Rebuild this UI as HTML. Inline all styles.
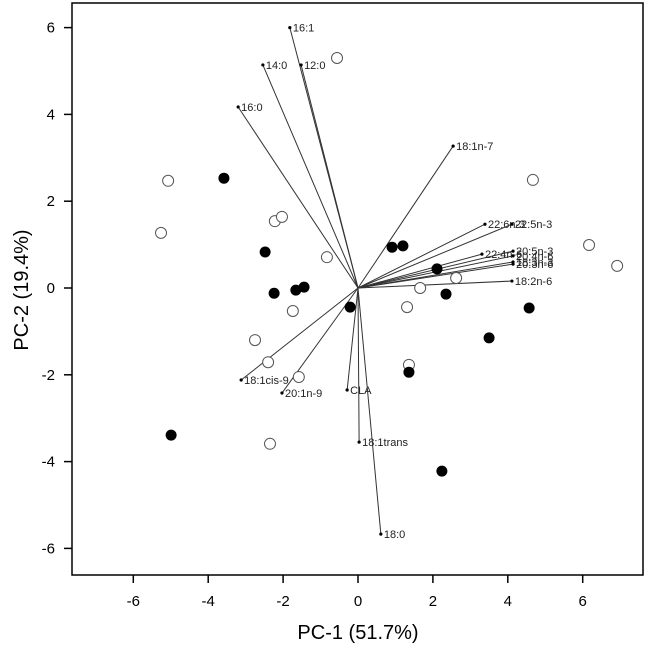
<!DOCTYPE html>
<html><head><meta charset="utf-8"><style>
html,body{margin:0;padding:0;background:#fff;}
svg{display:block;font-family:"Liberation Sans",Arial,sans-serif;}
</style></head><body>
<svg id="chart" width="647" height="646">
<rect x="72" y="3" width="571" height="572" fill="none" stroke="#000" stroke-width="1.5"/>
<g id="axes"></g><g id="vectors"></g><g id="points"></g>
<text x="358" y="639" text-anchor="middle" font-size="20">PC-1 (51.7%)</text>
<text transform="translate(28,290) rotate(-90)" text-anchor="middle" font-size="20">PC-2 (19.4%)</text>
</svg>
<script>
const xTicks=[-6,-4,-2,0,2,4,6];
const yTicks=[-6,-4,-2,0,2,4,6];
const vecNames=["16:1","12:0","14:0","16:0","18:1n-7","22:6n-3","22:5n-3","20:5n-3","22:4n-6","20:4n-6","18:3n-3","20:3n-6","18:2n-6","18:1cis-9","20:1n-9","CLA","18:1trans","18:0"];
const vecX=[-1.82,-1.52,-2.54,-3.2,2.54,3.39,4.11,4.14,3.31,4.14,4.14,4.14,4.11,-3.12,-2.03,-0.29,0.03,0.61];
const vecY=[6.0,5.14,5.14,4.17,3.27,1.47,1.47,0.85,0.78,0.74,0.6,0.55,0.16,-2.12,-2.42,-2.35,-3.55,-5.67];
const filledX=[-3.58,-2.48,-2.24,-1.66,-1.44,-0.21,0.91,1.2,2.11,2.35,4.57,3.5,1.36,-4.99,2.24];
const filledY=[2.53,0.83,-0.12,-0.05,0.02,-0.44,0.94,0.97,0.44,-0.14,-0.46,-1.15,-1.94,-3.39,-4.22];
const openX=[-5.07,-5.26,-2.22,-2.03,-0.83,-0.56,-1.74,-2.75,-2.4,-1.58,-2.35,1.31,1.66,2.62,1.36,4.67,6.17,6.92];
const openY=[2.47,1.27,1.54,1.64,0.71,5.3,-0.53,-1.2,-1.71,-2.05,-3.59,-0.44,0,0.23,-1.77,2.49,0.99,0.51];
const NS="http://www.w3.org/2000/svg";
const sx=v=>358+v*37.45, sy=v=>288-v*43.4;
function mk(tag,attrs,parent,txt){const e=document.createElementNS(NS,tag);for(const k in attrs)e.setAttribute(k,attrs[k]);if(txt!==undefined)e.textContent=txt;parent.appendChild(e);return e;}
const ax=document.getElementById('axes');
xTicks.forEach(t=>{
 const l=mk('line',{x1:sx(t),x2:sx(t),y1:575,y2:583,stroke:'#000','stroke-width':1.5},ax);
 
 
 const tx=mk('text',{x:sx(t),y:606,'text-anchor':'middle','font-size':15},ax,String(t));
 
 
});
yTicks.forEach(t=>{
 const l=mk('line',{x1:64,x2:72,y1:sy(t),y2:sy(t),stroke:'#000','stroke-width':1.5},ax);
 
 
 const tx=mk('text',{x:55,y:sy(t)+5,'text-anchor':'end','font-size':15},ax,String(t));
 
 
});
const vg=document.getElementById('vectors');
vecNames.forEach((n,i)=>{
 const x=sx(vecX[i]),y=sy(vecY[i]);
 const l=mk('line',{x1:sx(0),y1:sy(0),x2:x,y2:y,stroke:'#333','stroke-width':1},vg);
 
 
 const d=mk('circle',{cx:x,cy:y,r:1.6,fill:'#000'},vg);
 
 
 const t=mk('text',{x:x+3,y:y+4,'font-size':11,fill:'#222'},vg,n);
 
 
});
const pg=document.getElementById('points');
openX.forEach((v,i)=>{
 const c=mk('circle',{cx:sx(v),cy:sy(openY[i]),r:5.5,fill:'#fff',stroke:'#555','stroke-width':1},pg);
 
 
});
filledX.forEach((v,i)=>{
 const c=mk('circle',{cx:sx(v),cy:sy(filledY[i]),r:5.5,fill:'#000'},pg);
 
 
});
</script>
</body></html>
